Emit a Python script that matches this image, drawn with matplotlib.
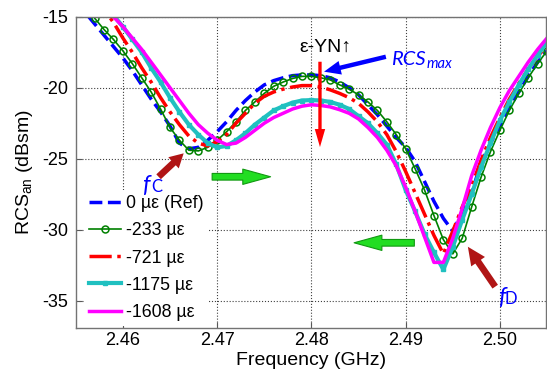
import numpy as np
import matplotlib
matplotlib.use('Agg')
import matplotlib.pyplot as plt
from matplotlib.patches import FancyArrowPatch

plt.rcParams['font.family'] = ['Liberation Sans', 'DejaVu Sans']
plt.rcParams['mathtext.fontset'] = 'custom'
plt.rcParams['mathtext.rm'] = 'Liberation Sans'
plt.rcParams['mathtext.it'] = 'Liberation Sans:italic'
plt.rcParams['axes.unicode_minus'] = False

# frequency sample grid (GHz), 1 MHz steps
freq_ghz = np.round(np.arange(2.455, 2.5055, 0.001), 3)

rcs_ref = [-14.0, -14.7, -15.5, -16.3, -17.1, -17.9, -18.8, -19.8, -20.8, -21.7,
           -22.7, -23.9, -24.3, -24.2, -23.7, -23.1, -22.4, -21.6, -20.9, -20.3,
           -19.8, -19.5, -19.3, -19.15, -19.1, -19.1, -19.15, -19.3, -19.6, -20.0,
           -20.5, -21.2, -21.9, -22.7, -23.5, -24.2, -25.2, -26.6, -28.0, -29.2,
           -30.1, -28.8, -27.4, -25.3, -23.9, -22.7, -21.4, -20.3, -19.2, -18.2,
           -17.4]
rcs_233 = [-13.6, -14.3, -15.1, -15.9, -16.6, -17.4, -18.3, -19.3, -20.3, -21.5,
           -22.8, -23.7, -24.4, -24.45, -24.2, -23.7, -23.1, -22.4, -21.6, -21.0,
           -20.4, -19.9, -19.6, -19.35, -19.2, -19.2, -19.3, -19.45, -19.8, -20.1,
           -20.5, -21.0, -21.6, -22.4, -23.3, -24.3, -25.7, -27.2, -29.0, -30.7,
           -31.7, -30.6, -28.4, -26.3, -24.5, -23.0, -21.6, -20.4, -19.3, -18.3,
           -17.4]
rcs_721 = [-12.8, -13.4, -14.0, -14.5, -15.4, -16.5, -17.5, -18.6, -19.6, -20.7,
           -21.7, -22.6, -23.4, -23.9, -24.1, -23.8, -23.3, -22.5, -21.8, -21.1,
           -20.6, -20.3, -20.1, -19.95, -19.85, -19.85, -19.95, -20.15, -20.4, -20.7,
           -21.1, -21.7, -22.4, -23.3, -24.5, -25.9, -27.4, -28.9, -30.4, -31.7,
           -30.1, -28.4, -26.9, -25.1, -23.5, -22.1, -20.8, -19.7, -18.7, -17.8,
           -17.0]
rcs_1175 = [-12.0, -12.8, -13.5, -14.2, -14.9, -15.7, -16.6, -17.5, -18.6, -19.6,
            -20.7, -21.7, -22.6, -23.3, -23.9, -24.2, -24.1, -23.7, -23.2, -22.6,
            -22.1, -21.6, -21.3, -21.05, -20.9, -20.87, -20.9, -21.0, -21.2, -21.5,
            -22.0, -22.5, -23.2, -24.0, -25.4, -27.2, -28.7, -30.3, -31.6, -32.8,
            -31.2, -29.3, -27.5, -25.6, -23.9, -22.3, -21.0, -19.8, -18.7, -17.7,
            -16.8]
rcs_1608 = [-12.2, -12.9, -13.6, -14.3, -15.0, -15.7, -16.5, -17.3, -18.2, -19.1,
            -20.0, -20.9, -21.8, -22.6, -23.2, -23.7, -24.0, -23.9, -23.5, -23.0,
            -22.5, -22.1, -21.8, -21.5, -21.3, -21.2, -21.25, -21.35, -21.55, -21.8,
            -22.2, -22.8, -23.5, -24.4, -25.5, -27.0, -28.7, -30.5, -32.3, -32.3,
            -30.6, -28.5, -26.2, -24.4, -22.8, -21.4, -20.2, -19.2, -18.2, -17.3,
            -16.5]

labels = ['0 µε (Ref)', '-233 µε', '-721 µε', '-1175 µε', '-1608 µε']
xticks = [2.46, 2.47, 2.48, 2.49, 2.50]
xtick_labels = ['2.46', '2.47', '2.48', '2.49', '2.50']
yticks = [-35, -30, -25, -20, -15]

fig = plt.figure(figsize=(5.47, 3.75), dpi=100)
ax = fig.add_axes([0.1395, 0.1261, 0.8587, 0.8293])

ax.plot(freq_ghz, rcs_ref, color='#0000FF', ls='--', lw=2.5, label=labels[0])
ax.plot(freq_ghz, rcs_233, color='#008000', ls='-', lw=1.2, marker='o',
        mfc='none', mec='#008000', ms=5, mew=1.1, label=labels[1])
ax.plot(freq_ghz, rcs_721, color='#FF0000', ls='-.', lw=2.5, label=labels[2])
ax.plot(freq_ghz, rcs_1175, color='#20C0C0', ls='-', lw=3, marker='s',
        ms=3.5, mfc='#20C0C0', mec='#20C0C0', label=labels[3])
ax.plot(freq_ghz, rcs_1608, color='#FF00FF', ls='-', lw=2.5, label=labels[4])

ax.set_xlim(2.45506, 2.50489)
ax.set_ylim(-36.9, -15)
ax.set_xticks(xticks)
ax.set_xticklabels(xtick_labels)
ax.set_yticks(yticks)
ax.tick_params(direction='in', length=4, labelsize=13, color='0.35')
ax.tick_params(axis='y', pad=6)
ax.tick_params(axis='x', pad=3)
for s in ax.spines.values():
    s.set_color('0.45')
    s.set_linewidth(1.0)
ax.grid(True, linestyle=':', color='0.25', linewidth=0.8)
ax.set_xlabel('Frequency (GHz)', fontsize=14, labelpad=2)
ax.set_ylabel(r'RCS$_\mathrm{an}$ (dBsm)', fontsize=14, labelpad=5)

leg = ax.legend(loc='upper left', bbox_to_anchor=(0.016, 0.443), frameon=True,
                fontsize=12.8, handlelength=1.8, handletextpad=0.3,
                labelspacing=0.57, borderpad=0.3, borderaxespad=0.0,
                numpoints=1)
leg.get_frame().set_edgecolor('none')
leg.get_frame().set_facecolor('white')
leg.get_frame().set_alpha(1.0)
leg.set_zorder(5)


def arrow(x0, y0, x1, y1, color, hl, hw, tw, ec=None, lw=0.0):
    p = FancyArrowPatch((x0, y0), (x1, y1),
                        arrowstyle=f'simple,head_length={hl},head_width={hw},tail_width={tw}',
                        mutation_scale=1, shrinkA=0, shrinkB=0,
                        facecolor=color, edgecolor=ec if ec else color,
                        linewidth=lw, zorder=6)
    ax.add_patch(p)

# strain-induced shift arrows
arrow(2.46947, -26.27, 2.47567, -26.27, '#22DD22', 20, 11, 4.8, ec='#119911', lw=0.8)
arrow(2.49092, -30.92, 2.48453, -30.92, '#22DD22', 20, 11, 4.8, ec='#119911', lw=0.8)
# resonance markers
arrow(2.46379, -26.27, 2.46645, -24.62, '#B01515', 10, 11, 4.8)
arrow(2.49950, -34.01, 2.49660, -31.20, '#B01515', 13, 12, 4.8)
# RCS max arrows
arrow(2.48790, -17.82, 2.48134, -18.87, '#0000FF', 12, 10, 3.2)
arrow(2.48091, -18.17, 2.48091, -24.18, '#FF0000', 13, 7.5, 2.4)

ax.text(2.4815, -17.13, 'ε-YN↑', fontsize=14, ha='center', va='center', zorder=7)
t_rcs = ax.text(2.48846, -18.40, 'RCS', fontsize=14.5, color='#0000FF',
                family='Lato', style='italic', ha='left', va='baseline', zorder=7)
ax.annotate('max', xy=(1, 0), xycoords=t_rcs, xytext=(0.5, -2.5),
            textcoords='offset points', fontsize=10.5, color='#0000FF',
            family='Lato', style='italic', ha='left', va='bottom', zorder=7)
ax.text(2.46202, -27.32, 'f', fontsize=17, color='#0000FF',
        family='Lato', style='italic', ha='left', va='baseline', zorder=7)
ax.text(2.46301, -27.32, 'C', fontsize=12, color='#0000FF',
        family='Lato', ha='left', va='baseline', zorder=7)
ax.text(2.49983, -35.25, 'f', fontsize=17, color='#0000FF',
        family='Lato', style='italic', ha='left', va='baseline', zorder=7)
ax.text(2.50049, -35.2, 'D', fontsize=12, color='#0000FF',
        family='Lato', ha='left', va='baseline', zorder=7)

fig.savefig('out.png', dpi=100)
